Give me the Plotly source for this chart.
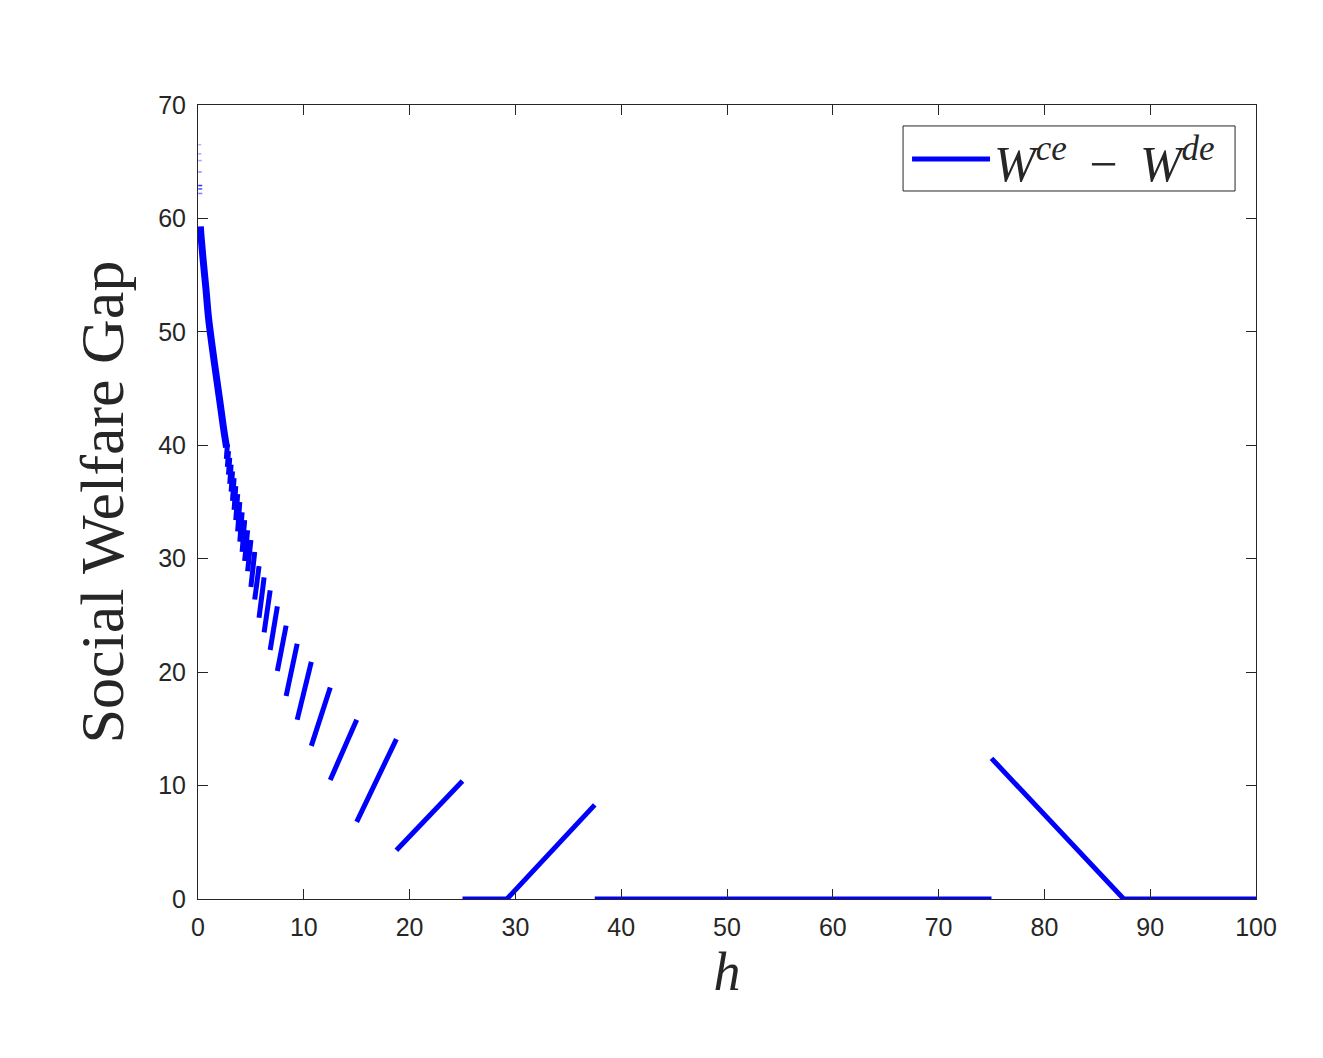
import plotly.graph_objects as go

# Piecewise segments of the welfare gap (h, gap)
seg_h = [
    [75.0, 87.5, 100.0],
    [37.5, 75.0],
    [25.0, 29.2, 37.5],
    [18.75, 25.0],
    [15.0, 18.75],
    [12.5, 14.5, 15.0],
    [10.71, 12.5],
    [9.375, 10.71],
    [8.33, 9.375],
    [7.5, 8.33],
    [6.82, 7.5],
    [6.25, 6.82],
    [5.77, 6.25],
    [5.36, 5.77],
    [5.0, 5.36],
    [4.69, 5.0],
    [4.41, 4.69],
    [4.17, 4.41],
    [3.95, 4.17],
    [3.75, 3.95],
    [3.57, 3.75],
    [3.41, 3.57],
    [3.26, 3.41],
    [3.13, 3.26],
    [3.0, 3.13],
    [2.88, 3.0],
    [2.78, 2.88],
    [2.68, 2.78],
]
seg_gap = [
    [12.4, 0.0, 0.0],
    [0.0, 0.0],
    [0.0, 0.0, 8.3],
    [4.3, 10.4],
    [6.8, 14.1],
    [10.5, 14.6, 15.8],
    [13.5, 18.65],
    [15.8, 20.9],
    [17.9, 22.5],
    [20.1, 24.1],
    [21.95, 25.8],
    [23.5, 27.2],
    [24.8, 28.35],
    [26.4, 29.35],
    [27.5, 30.6],
    [28.9, 31.65],
    [29.8, 32.5],
    [30.6, 33.4],
    [31.5, 34.1],
    [32.4, 35.0],
    [33.4, 35.7],
    [34.3, 36.4],
    [35.1, 37.1],
    [35.9, 37.7],
    [36.6, 38.3],
    [37.4, 38.9],
    [38.1, 39.5],
    [38.8, 40.1],
]

# dense part near h -> 0 where the steps merge into one band
dense_h = [0.22, 0.3, 0.5, 0.75, 1.0, 1.5, 2.0, 2.4, 2.7]
dense_gap = [59.3, 58.3, 56.2, 53.8, 51.2, 47.6, 44.3, 41.6, 39.8]

# faint sub-pixel artefacts near h -> 0
faint_h = [[0.02, 0.3], [0.02, 0.3], [0.02, 0.35], [0.02, 0.35], [0.02, 0.4], [0.02, 0.4], [0.02, 0.4]]
faint_gap = [[66.5, 66.5], [65.7, 65.7], [65.1, 65.1], [64.1, 64.1], [62.9, 62.9], [62.6, 62.6], [62.2, 62.2]]
faint_alpha = [0.3, 0.35, 0.35, 0.45, 0.8, 0.7, 0.5]

x_ticks = [0, 10, 20, 30, 40, 50, 60, 70, 80, 90, 100]
y_ticks = [0, 10, 20, 30, 40, 50, 60, 70]

BLUE = "#0000ff"
DARK = "#262626"

fig = go.Figure()

hx, gy = [], []
for xs, ys in zip(seg_h, seg_gap):
    hx += xs + [None]
    gy += ys + [None]
fig.add_trace(go.Scatter(x=hx, y=gy, mode="lines",
                         line=dict(color=BLUE, width=5),
                         showlegend=False, connectgaps=False))
fig.add_trace(go.Scatter(x=dense_h, y=dense_gap, mode="lines",
                         line=dict(color=BLUE, width=7, shape="spline"),
                         showlegend=False))

for xs, ys, a in zip(faint_h, faint_gap, faint_alpha):
    fig.add_trace(go.Scatter(x=xs, y=ys, mode="lines", opacity=a,
                             line=dict(color=BLUE, width=1.5),
                             showlegend=False))

axis_common = dict(showline=True, linecolor=DARK, linewidth=1, mirror="ticks",
                   ticks="inside", ticklen=10, tickcolor=DARK, tickwidth=1,
                   showgrid=False, zeroline=False,
                   tickfont=dict(family="Liberation Sans, Arial", size=25, color=DARK))

fig.update_xaxes(range=[0, 100], tickvals=x_ticks, ticktext=[str(v) for v in x_ticks],
                 title=dict(text="<i>h</i>", font=dict(family="Liberation Serif, serif", size=54, color=DARK),
                            standoff=12),
                 ticklabelstandoff=6, **axis_common)
fig.update_yaxes(range=[0, 70], tickvals=y_ticks, ticktext=[str(v) for v in y_ticks],
                 title=dict(text="Social Welfare Gap", font=dict(family="Liberation Serif, serif", size=62, color=DARK),
                            standoff=14),
                 ticklabelstandoff=6, **axis_common)

# legend drawn manually
fig.add_shape(type="rect", xref="paper", yref="paper", x0=0.6664, x1=0.9802, y0=0.8917, y1=0.9736,
              line=dict(color=DARK, width=1), fillcolor="white")
fig.add_shape(type="line", xref="paper", yref="paper", x0=0.6749, x1=0.7486, y0=0.932, y1=0.932,
              line=dict(color=BLUE, width=5))
fig.add_annotation(xref="paper", yref="paper", x=0.7505, y=0.930, xanchor="left", yanchor="middle",
                   showarrow=False,
                   text="<i>W</i><sup><i>ce</i></sup>\u2009 \u2212 \u2009<i>W</i><sup><i>de</i></sup>",
                   font=dict(family="Liberation Serif, serif", size=50, color=DARK))

fig.update_layout(width=1323, height=1058, paper_bgcolor="white", plot_bgcolor="white",
                  margin=dict(l=190, r=75, t=97, b=167))

fig.write_html("out.html")
